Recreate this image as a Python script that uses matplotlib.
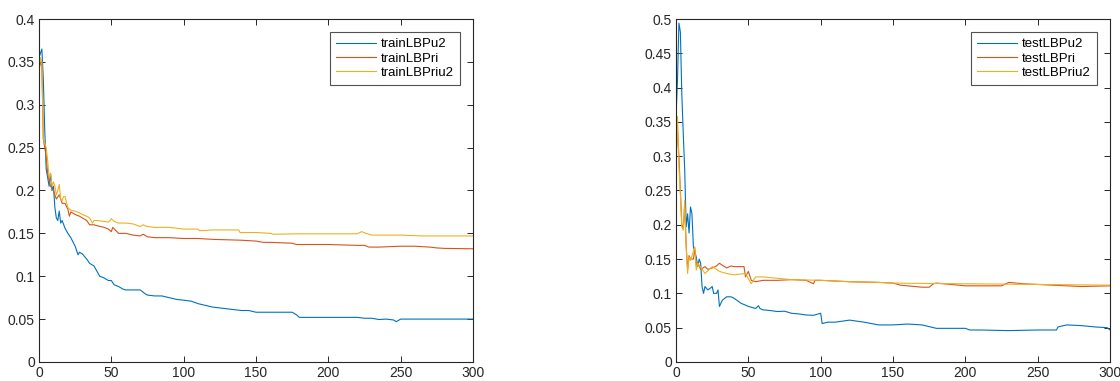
import matplotlib.pyplot as plt

plt.rcParams['font.family'] = ['Liberation Sans', 'DejaVu Sans']

# colores por defecto de MATLAB
c_u2 = '#0072BD'
c_ri = '#D95319'
c_riu2 = '#EDB120'

# ---- entrenamiento ----
train_u2_x = [0, 1, 2, 3, 4, 5, 6, 7, 8, 9, 10, 11, 12, 13, 14, 15, 16, 18, 20, 22, 25, 27, 28, 30,
              33, 35, 38, 40, 42, 45, 48, 50, 52, 55, 58, 60, 65, 70, 73, 75, 80, 85, 90, 95, 100,
              105, 110, 115, 120, 125, 130, 135, 140, 145, 150, 160, 170, 175, 178, 180, 190, 200,
              210, 220, 225, 230, 235, 240, 245, 247, 250, 255, 260, 270, 280, 290, 300]
train_u2_y = [0.355, 0.36, 0.365, 0.33, 0.27, 0.225, 0.215, 0.205, 0.22, 0.2, 0.205, 0.18, 0.168,
              0.165, 0.176, 0.162, 0.165, 0.156, 0.15, 0.145, 0.135, 0.125, 0.128, 0.126, 0.12,
              0.115, 0.112, 0.106, 0.1, 0.098, 0.095, 0.095, 0.09, 0.088, 0.085, 0.084, 0.084,
              0.084, 0.08, 0.078, 0.077, 0.077, 0.075, 0.073, 0.072, 0.071, 0.068, 0.066, 0.064,
              0.063, 0.062, 0.061, 0.06, 0.06, 0.058, 0.058, 0.058, 0.058, 0.055, 0.052, 0.052,
              0.052, 0.052, 0.052, 0.051, 0.051, 0.0495, 0.05, 0.049, 0.047, 0.05, 0.05, 0.05,
              0.05, 0.05, 0.05, 0.05]

train_ri_x = [0, 1, 2, 3, 4, 5, 6, 7, 8, 10, 12, 14, 16, 18, 20, 21, 22, 25, 28, 30, 33, 35, 38, 40,
              45, 48, 50, 51, 55, 60, 65, 70, 72, 75, 80, 85, 90, 100, 110, 120, 130, 140, 150,
              155, 160, 175, 178, 200, 220, 225, 228, 235, 250, 260, 270, 275, 280, 300]
train_ri_y = [0.34, 0.35, 0.345, 0.26, 0.25, 0.24, 0.22, 0.212, 0.205, 0.2, 0.19, 0.195, 0.185,
              0.185, 0.178, 0.17, 0.175, 0.172, 0.17, 0.168, 0.165, 0.16, 0.16, 0.159, 0.157,
              0.155, 0.152, 0.157, 0.15, 0.15, 0.148, 0.147, 0.149, 0.146, 0.145, 0.145, 0.145,
              0.144, 0.144, 0.143, 0.1425, 0.142, 0.141, 0.1395, 0.1395, 0.1385, 0.137, 0.137,
              0.136, 0.136, 0.134, 0.134, 0.135, 0.135, 0.134, 0.133, 0.1325, 0.132]

train_riu2_x = [0, 1, 2, 3, 4, 5, 6, 7, 8, 9, 10, 11, 12, 13, 14, 15, 16, 17, 18, 20, 22, 25, 28, 30,
                33, 35, 37, 38, 40, 45, 48, 50, 52, 55, 60, 65, 70, 72, 73, 75, 80, 90, 100, 110,
                111, 120, 130, 138, 139, 150, 160, 162, 180, 200, 220, 223, 226, 230, 240, 250,
                265, 270, 300]
train_riu2_y = [0.34, 0.355, 0.35, 0.26, 0.255, 0.25, 0.235, 0.215, 0.22, 0.205, 0.21, 0.205, 0.195,
                0.2, 0.207, 0.19, 0.188, 0.193, 0.193, 0.18, 0.177, 0.176, 0.174, 0.172, 0.17,
                0.168, 0.162, 0.165, 0.165, 0.164, 0.163, 0.167, 0.164, 0.162, 0.162, 0.161, 0.158,
                0.16, 0.159, 0.158, 0.157, 0.157, 0.155, 0.155, 0.153, 0.154, 0.154, 0.154, 0.151,
                0.151, 0.15, 0.149, 0.1495, 0.1495, 0.1495, 0.152, 0.15, 0.148, 0.148, 0.148,
                0.147, 0.147, 0.147]

# ---- prueba ----
test_u2_x = [0, 1, 2, 3, 4, 5, 6, 7, 8, 9, 10, 11, 12, 13, 14, 15, 16, 17, 18, 19, 20, 22, 24, 25,
             26, 28, 29, 30, 32, 35, 38, 40, 45, 50, 55, 57, 58, 60, 65, 70, 75, 80, 85, 90, 95,
             100, 101, 105, 110, 120, 130, 140, 150, 160, 170, 180, 200, 203, 210, 230, 250, 263,
             264, 270, 280, 290, 298, 300]
test_u2_y = [0.358, 0.41, 0.494, 0.481, 0.39, 0.333, 0.28, 0.197, 0.216, 0.188, 0.226, 0.216,
             0.168, 0.16, 0.153, 0.139, 0.15, 0.144, 0.11, 0.1, 0.11, 0.105, 0.108, 0.11, 0.1,
             0.1, 0.105, 0.081, 0.09, 0.095, 0.095, 0.093, 0.0855, 0.081, 0.078, 0.082, 0.078,
             0.076, 0.075, 0.0735, 0.074, 0.0709, 0.07, 0.0685, 0.068, 0.071, 0.056, 0.058,
             0.058, 0.061, 0.058, 0.054, 0.054, 0.0553, 0.054, 0.049, 0.049, 0.0466, 0.0466,
             0.0457, 0.0466, 0.0466, 0.051, 0.054, 0.053, 0.051, 0.05, 0.0466]

test_ri_x = [0, 1, 2, 3, 4, 5, 6, 7, 8, 9, 10, 12, 13, 14, 15, 17, 20, 22, 25, 28, 30, 32, 35, 38,
             40, 45, 47, 48, 50, 52, 55, 60, 70, 80, 90, 95, 96, 100, 120, 140, 150, 155, 160,
             170, 175, 178, 180, 200, 225, 230, 240, 260, 280, 300]
test_ri_y = [0.3, 0.34, 0.3, 0.25, 0.2, 0.195, 0.23, 0.17, 0.135, 0.155, 0.15, 0.15, 0.165, 0.14,
             0.145, 0.135, 0.139, 0.135, 0.137, 0.14, 0.144, 0.141, 0.137, 0.14, 0.139, 0.139,
             0.139, 0.124, 0.132, 0.119, 0.117, 0.119, 0.119, 0.12, 0.119, 0.114, 0.119, 0.119,
             0.117, 0.116, 0.115, 0.112, 0.111, 0.109, 0.109, 0.114, 0.115, 0.111, 0.111, 0.116,
             0.114, 0.112, 0.110, 0.111]

test_riu2_x = [0, 1, 2, 3, 4, 5, 6, 7, 8, 9, 10, 13, 14, 15, 20, 25, 30, 35, 40, 48, 52, 55, 60, 70,
               80, 100, 120, 140, 150, 160, 200, 250, 300]
test_riu2_y = [0.274, 0.358, 0.285, 0.245, 0.197, 0.192, 0.236, 0.168, 0.129, 0.153, 0.148, 0.168,
               0.134, 0.144, 0.129, 0.139, 0.132, 0.129, 0.127, 0.129, 0.114, 0.124, 0.124, 0.122,
               0.12, 0.119, 0.117, 0.116, 0.115, 0.1147, 0.114, 0.113, 0.112]

xticks = [0, 50, 100, 150, 200, 250, 300]

fig = plt.figure(figsize=(11.2, 3.81), dpi=100)
ax1 = fig.add_axes([0.0348, 0.05, 0.3875, 0.90])
ax2 = fig.add_axes([0.6036, 0.05, 0.3875, 0.90])


def estilo(ax, ymax, yticks):
    ax.set_xlim(0, 300)
    ax.set_ylim(0, ymax)
    ax.set_xticks(xticks)
    ax.set_yticks(yticks)
    ax.set_yticklabels([('%g' % t) for t in yticks])
    ax.tick_params(direction='in', top=True, right=True, length=4, width=0.7,
                   labelsize=10, colors='#262626', pad=3)
    for s in ax.spines.values():
        s.set_linewidth(0.8)
        s.set_color('#262626')


ax1.plot(train_u2_x, train_u2_y, color=c_u2, lw=0.8, label='trainLBPu2')
ax1.plot(train_ri_x, train_ri_y, color=c_ri, lw=0.8, label='trainLBPri')
ax1.plot(train_riu2_x, train_riu2_y, color=c_riu2, lw=0.8, label='trainLBPriu2')
estilo(ax1, 0.4, [0, 0.05, 0.1, 0.15, 0.2, 0.25, 0.3, 0.35, 0.4])

ax2.plot(test_u2_x, test_u2_y, color=c_u2, lw=0.8, label='testLBPu2')
ax2.plot(test_ri_x, test_ri_y, color=c_ri, lw=0.8, label='testLBPri')
ax2.plot(test_riu2_x, test_riu2_y, color=c_riu2, lw=0.8, label='testLBPriu2')
estilo(ax2, 0.5, [0, 0.05, 0.1, 0.15, 0.2, 0.25, 0.3, 0.35, 0.4, 0.45, 0.5])

for ax in (ax1, ax2):
    leg = ax.legend(loc='upper right', fontsize=9.5, frameon=True, fancybox=False,
                    edgecolor='#262626', handlelength=3.0, handletextpad=0.4,
                    labelspacing=0.15, borderaxespad=1.0, borderpad=0.45)
    leg.get_frame().set_linewidth(0.8)

fig.savefig('out.png', dpi=100)
